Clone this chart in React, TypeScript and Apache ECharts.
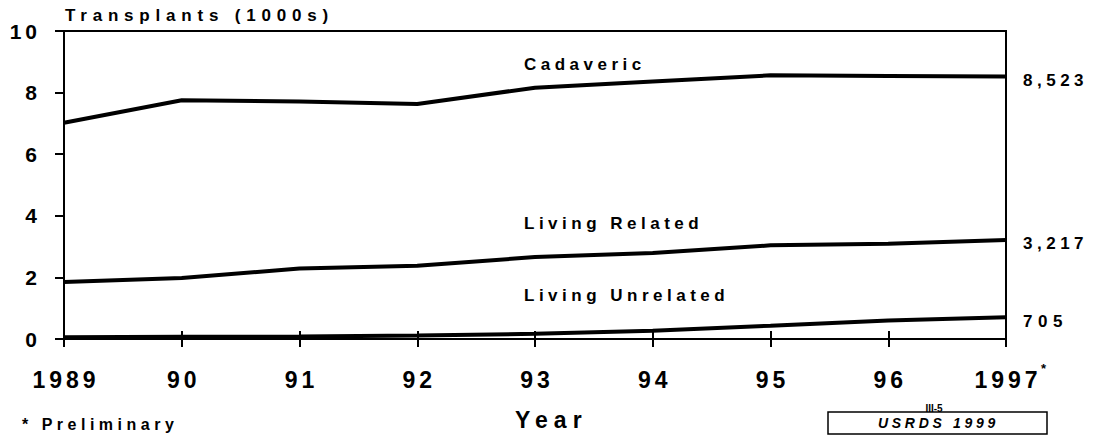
import React, { useEffect, useRef } from "react";
import * as echarts from "echarts";

const years = ["1989", "90", "91", "92", "93", "94", "95", "96", "1997"];
const seriesNames = ["Cadaveric", "Living Related", "Living Unrelated"];
const cadaveric = [7.02, 7.75, 7.71, 7.63, 8.16, 8.36, 8.56, 8.54, 8.523];
const livingRelated = [1.85, 1.98, 2.29, 2.38, 2.66, 2.79, 3.04, 3.09, 3.217];
const livingUnrelated = [0.06, 0.07, 0.08, 0.11, 0.17, 0.27, 0.43, 0.6, 0.705];
const endCounts = [8523, 3217, 705];

const FONT = "'Liberation Sans', Arial, Helvetica, sans-serif";

const spacingMap: Record<string, number> = {
  "Transplants (1000s)": 5.8,
  Cadaveric: 4.5,
  "Living Related": 4.5,
  "Living Unrelated": 4.5,
  "8,523": 4.5,
  "3,217": 4.5,
  "705": 5.5,
  Year: 6,
  "* Preliminary": 4.5,
  "USRDS 1999": 3.7,
};

function applySpacing(root: HTMLElement | null) {
  if (!root) return;
  root.querySelectorAll("text").forEach((t) => {
    const s = (t.textContent || "").trim();
    let sp = spacingMap[s];
    if (sp === undefined && /^\d+$/.test(s)) sp = 4;
    if (sp !== undefined) {
      t.setAttribute("letter-spacing", sp + "px");
      (t as any).style.letterSpacing = sp + "px";
    }
  });
}

export default function App() {
  const ref = useRef<HTMLDivElement>(null);
  useEffect(() => {
    const chart = echarts.init(ref.current!, null, { renderer: "svg" });
    const labelText = (x: number, y: number, text: string, size: number, extra: any = {}) => ({
      type: "text",
      x,
      y,
      style: {
        text,
        fontSize: size,
        fontWeight: "bold",
        fontFamily: FONT,
        fill: "#000",
        textVerticalAlign: "middle",
        textAlign: "left",
        ...extra,
      },
    });
    const dataSets = [cadaveric, livingRelated, livingUnrelated];
    chart.setOption({
      animation: false,
      backgroundColor: "#fff",
      grid: {
        left: 64,
        right: 87,
        top: 31,
        bottom: 98,
        show: true,
        borderColor: "#000",
        borderWidth: 2,
      },
      xAxis: [
        {
          type: "category",
          data: years,
          boundaryGap: false,
          axisLine: { show: true, lineStyle: { color: "#000", width: 2 } },
          axisTick: { show: true, inside: true, length: 8, lineStyle: { color: "#000", width: 2 } },
          axisLabel: {
            show: true,
            margin: 29,
            fontSize: 23,
            fontWeight: "bold",
            fontFamily: FONT,
            color: "#000",
            padding: [0, 0, 0, 4],
          },
          splitLine: { show: false },
        },
        {
          type: "category",
          data: years,
          boundaryGap: false,
          position: "bottom",
          axisLine: { show: false },
          axisTick: { show: true, inside: false, length: 8, lineStyle: { color: "#000", width: 2 } },
          axisLabel: { show: false },
          splitLine: { show: false },
        },
      ],
      yAxis: {
        type: "value",
        min: 0,
        max: 10,
        interval: 2,
        axisLine: { show: true, lineStyle: { color: "#000", width: 2 } },
        axisTick: { show: true, length: 9, lineStyle: { color: "#000", width: 2 } },
        axisLabel: {
          margin: 23,
          fontSize: 21,
          fontWeight: "bold",
          fontFamily: FONT,
          color: "#000",
          padding: [4, 0, 0, 0],
        },
        splitLine: { show: false },
      },
      series: dataSets.map((d, i) => ({
        name: seriesNames[i],
        type: "line",
        data: d,
        xAxisIndex: 0,
        symbol: "none",
        lineStyle: { color: "#000", width: 4 },
        endLabel: {
          show: true,
          formatter: () => endCounts[i].toLocaleString("en-US"),
          fontSize: 17,
          fontWeight: "bold",
          fontFamily: FONT,
          color: "#000",
          offset: [9, 4],
        },
      })),
      graphic: [
        labelText(65, 15, "Transplants (1000s)", 17),
        labelText(524, 64, seriesNames[0], 17),
        labelText(524, 223, seriesNames[1], 17),
        labelText(524, 295.5, seriesNames[2], 17),
        labelText(515, 420, "Year", 23),
        labelText(22, 424, "* Preliminary", 16),
        labelText(1041, 368, "*", 13),
        labelText(934, 408, "III-5", 10, { textAlign: "center" }),
        {
          type: "rect",
          shape: { x: 828, y: 412, width: 219, height: 22 },
          style: { fill: "none", stroke: "#000", lineWidth: 1.5 },
        },
        labelText(878, 423.3, "USRDS 1999", 14, { fontStyle: "italic" }),
      ],
    });
    applySpacing(ref.current);
    chart.on("finished", () => applySpacing(ref.current));
    const t = setTimeout(() => applySpacing(ref.current), 50);
    return () => {
      clearTimeout(t);
      chart.dispose();
    };
  }, []);
  return (
    <div
      ref={ref}
      style={{ position: "fixed", left: 0, top: 0, width: 1093, height: 437 }}
    />
  );
}
